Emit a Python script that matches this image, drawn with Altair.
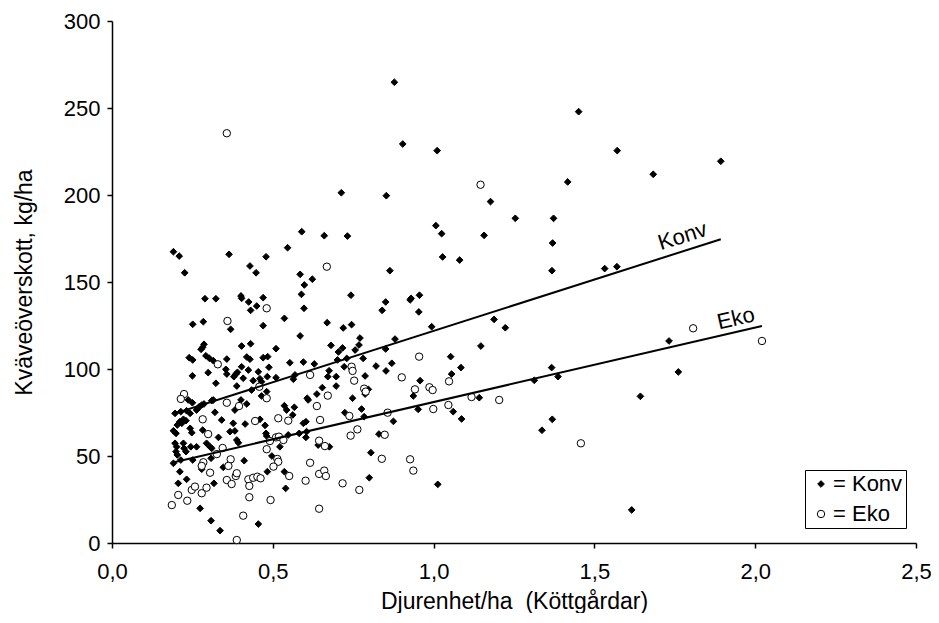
import altair as alt
import pandas as pd

# ---- data ----
konv_x = [0.590,0.191,0.209,0.364,0.479,0.546,0.226,0.429,0.448,0.585,0.598,0.589,0.597,0.289,0.323,0.401,0.403,0.425,0.450,0.431,
          0.470,0.536,0.251,0.284,0.369,0.470,0.585,0.403,0.431,0.510,0.286,0.282,0.277,0.240,0.251,0.292,0.303,0.315,0.357,0.419,
          0.429,0.470,0.484,0.553,0.595,0.250,0.299,0.354,0.357,0.385,0.390,0.379,0.403,0.424,0.455,0.488,0.408,0.460,0.465,0.483,
          0.510,0.323,0.388,0.439,0.569,0.564,0.434,0.465,0.481,0.237,0.250,0.279,0.286,0.265,0.271,0.310,0.315,0.401,0.419,0.196,
          0.214,0.232,0.243,0.263,0.320,0.382,0.211,0.222,0.230,0.203,0.217,0.341,0.377,0.414,0.460,0.476,0.536,0.543,0.562,0.567,
          0.595,0.603,0.607,0.191,0.199,0.243,0.248,0.282,0.367,0.382,0.331,0.388,0.393,0.479,0.481,0.548,0.582,0.603,0.605,0.196,
          0.201,0.199,0.203,0.222,0.224,0.230,0.245,0.263,0.294,0.305,0.310,0.522,0.497,0.191,0.214,0.251,0.308,0.346,0.411,0.211,
          0.279,0.483,0.536,0.232,0.206,0.317,0.540,0.274,0.308,0.336,0.455,
          0.660,0.732,0.864,0.623,0.743,0.851,0.840,0.927,0.930,0.956,0.954,0.669,0.719,0.745,0.994,0.771,0.681,0.768,0.717,0.704,
          0.756,0.880,0.851,0.730,0.701,0.781,0.629,0.821,0.870,0.722,0.675,0.671,0.697,0.787,0.852,0.958,0.654,0.697,0.797,
          0.610,0.637,0.787,0.748,0.937,0.952,0.724,0.776,0.784,0.875,0.830,0.641,0.676,0.805,0.800,1.013,
          0.878,0.904,1.011,0.713,0.853,1.007,
          1.451,1.571,1.893,1.683,1.417,1.177,1.254,1.373,1.025,1.157,1.370,1.028,1.081,1.368,1.532,1.570,
          1.188,1.223,1.147,1.053,1.085,1.056,1.142,1.061,1.087,1.313,1.367,1.387,1.369,1.337,1.643,1.732,1.761,1.616]
konv_y = [178.9,167.4,164.9,165.9,164.5,169.7,155.3,159.2,155.3,154.4,148.3,142.9,134.9,140.4,140.4,142.0,140.6,138.5,136.2,133.7,
          141.0,129.1,125.7,127.2,122.8,124.9,119.0,113.2,114.5,111.7,114.2,112.5,111.3,106.5,105.2,107.6,106.1,104.8,105.7,106.9,
          105.6,106.5,107.1,103.6,104.0,96.1,97.9,99.8,97.1,97.0,98.1,95.6,101.3,99.4,98.4,101.0,94.7,94.4,92.7,95.6,
          95.0,91.8,90.2,93.3,96.6,94.1,87.9,84.5,87.0,82.2,80.6,79.3,79.9,76.8,78.3,81.8,82.2,82.2,79.9,74.5,
          75.5,76.0,74.5,76.4,75.1,76.4,69.7,71.1,70.3,67.8,68.8,70.7,68.8,68.4,71.1,67.6,78.9,76.4,73.6,78.0,
          68.8,69.7,83.2,64.5,63.0,65.9,63.4,64.9,64.0,64.4,60.7,59.2,57.6,63.0,61.5,62.1,63.0,60.7,64.0,57.3,
          55.3,52.5,50.6,57.3,54.4,52.5,55.3,55.3,57.3,55.3,54.4,55.3,50.0,45.8,47.7,47.7,48.7,43.5,47.3,41.0,
          42.4,41.0,41.0,36.6,34.3,34.3,31.4,19.9,12.8,7.1,10.9,
          176.6,176.4,156.5,151.6,142.4,138.5,133.7,139.7,140.6,142.4,132.8,126.6,123.6,125.5,124.3,117.8,113.6,113.8,112.1,109.8,
          110.9,117.2,111.5,106.1,105.2,106.1,102.9,101.7,103.3,101.3,99.0,95.6,95.6,96.0,98.9,93.3,89.3,90.2,88.3,
          82.2,85.6,85.6,83.2,84.5,76.8,74.9,77.0,72.6,69.9,62.6,56.3,55.3,51.9,37.5,33.7,
          264.8,229.3,225.5,201.3,199.6,182.4,
          247.9,225.5,219.4,211.9,207.5,196.2,186.6,186.6,177.8,176.8,172.4,164.4,162.6,156.5,157.7,158.8,
          128.5,123.7,113.2,107.1,100.8,97.1,83.5,75.5,71.3,93.5,100.8,95.6,71.1,64.8,84.3,116.1,98.3,19.0]

eko_x = [0.481,0.359,0.329,0.616,0.458,0.481,0.224,0.214,0.357,0.395,0.282,0.445,0.517,0.548,0.299,0.510,0.519,0.533,0.491,0.344,
         0.326,0.369,0.481,0.514,0.517,0.502,0.284,0.279,0.362,0.305,0.551,0.616,0.357,0.385,0.372,0.388,0.424,0.439,0.452,0.462,
         0.427,0.602,0.248,0.258,0.279,0.294,0.206,0.186,0.234,0.427,0.493,0.408,0.388,0.668,0.955,0.745,0.748,0.753,0.901,1.048,
         0.784,0.942,0.987,0.997,0.671,0.789,1.046,0.637,0.999,0.738,0.857,0.647,0.763,0.742,0.848,0.644,0.662,0.839,0.927,0.937,
         0.644,0.660,0.665,0.717,0.769,0.644,0.357,1.146,1.118,1.204,1.458,1.807,2.021]
eko_y = [134.9,127.6,102.7,96.6,89.8,83.2,85.6,82.8,80.6,78.7,71.1,70.1,71.7,70.3,62.6,60.7,61.1,59.2,58.6,54.6,
         51.1,48.1,53.9,48.3,46.7,43.9,46.4,44.3,44.3,40.4,38.5,46.1,36.2,38.5,33.9,40.1,36.6,37.5,38.1,37.2,
         32.8,35.8,30.5,32.4,28.6,31.8,27.6,21.8,24.3,26.3,24.7,15.7,1.7,158.8,107.1,101.3,98.9,93.3,95.2,92.9,
         88.7,88.3,89.5,87.9,84.7,87.0,79.3,78.7,77.0,73.0,74.9,70.7,65.3,61.7,62.2,58.8,55.7,48.4,48.1,41.6,
         39.7,41.6,38.5,34.3,30.5,19.7,235.5,205.9,83.9,82.2,57.3,123.4,116.1]

groups = ["Konv", "Eko"]
trend_intercept = [62.9, 38.2]
trend_slope = [59.0, 42.8]
trend_xmin = [0.189, 0.186]
trend_xmax = [1.893, 2.021]
label_x = [1.774, 1.940]
label_y = [176.4, 129.0]
label_angle = [342.3, 347.0]

x_ticks = [0.0, 0.5, 1.0, 1.5, 2.0, 2.5]
y_ticks = [0, 50, 100, 150, 200, 250, 300]

FONT = "Liberation Sans"
NB = "\u00a0"

pts = pd.DataFrame({
    "x": konv_x + eko_x,
    "y": konv_y + eko_y,
    "group": ["Konv"] * len(konv_x) + ["Eko"] * len(eko_x),
})
pts["sizegroup"] = pts["group"]

rows = []
for g, a, b, x0, x1 in zip(groups, trend_intercept, trend_slope, trend_xmin, trend_xmax):
    for xv in (x0, x1):
        rows.append({"group": g, "x": xv, "y": a + b * xv})
lines_df = pd.DataFrame(rows)
labels_df = pd.DataFrame({"text": groups, "x": label_x, "y": label_y, "angle": label_angle})

xscale = alt.Scale(domain=[0, 2.5], nice=False)
yscale = alt.Scale(domain=[0, 300], nice=False)

xaxis = alt.Axis(values=x_ticks, labelExpr="replace(format(datum.value, '.1f'), '.', ',')",
                 title="Djurenhet/ha" + NB + NB + "(Köttgårdar)", grid=False, tickSize=5, labelPadding=13,
                 titlePadding=8, labelFlush=False)
yaxis = alt.Axis(values=y_ticks, format="d", title="Kväveöverskott, kg/ha", grid=False,
                 tickSize=5, labelPadding=7, titlePadding=27)

leg = alt.Legend(orient="none", legendX=693, legendY=449, strokeColor="black",
                 padding=3, symbolOffset=2, labelFontSize=22, labelFont=FONT, labelColor="black",
                 labelExpr="'=" + NB + "' + datum.label + '" + NB + NB + NB + "'",
                 symbolSize=30, symbolStrokeColor="black", titlePadding=0,
                 symbolStrokeWidth=1, rowPadding=8, labelOffset=1, title="")

points = alt.Chart(pts).mark_point(filled=True, stroke="black", strokeWidth=1, opacity=1).encode(
    x=alt.X("x:Q", scale=xscale, axis=xaxis),
    y=alt.Y("y:Q", scale=yscale, axis=yaxis),
    shape=alt.Shape("group:N", scale=alt.Scale(domain=groups, range=["diamond", "circle"]), legend=leg),
    color=alt.Color("group:N", scale=alt.Scale(domain=groups, range=["black", "white"]), legend=leg),
    size=alt.Size("sizegroup:N", scale=alt.Scale(domain=groups, range=[45, 55]), legend=None),
)

lines = alt.Chart(lines_df).mark_line(color="black", strokeWidth=2).encode(
    x=alt.X("x:Q", scale=xscale),
    y=alt.Y("y:Q", scale=yscale),
    detail="group:N",
)

texts = alt.Chart(labels_df).mark_text(font=FONT, fontSize=22, color="black", align="center",
                                       baseline="middle").encode(
    x=alt.X("x:Q", scale=xscale),
    y=alt.Y("y:Q", scale=yscale),
    text="text:N",
    angle=alt.Angle("angle:Q", scale=None),
)

chart = alt.layer(points, lines, texts).properties(
    width=804, height=522,
    autosize=alt.AutoSizeParams(type="none"),
    padding={"left": 104, "top": 13, "right": 15, "bottom": 70},
).configure_view(stroke=None).configure_axis(
    domainColor="black", domainWidth=1.5, tickColor="black", tickWidth=1.5,
    labelFont=FONT, labelFontSize=22, labelColor="black",
    titleFont=FONT, titleFontSize=23, titleColor="black", titleFontWeight="normal",
)

chart.save("out.html", embed_options={"renderer": "svg", "actions": False})
